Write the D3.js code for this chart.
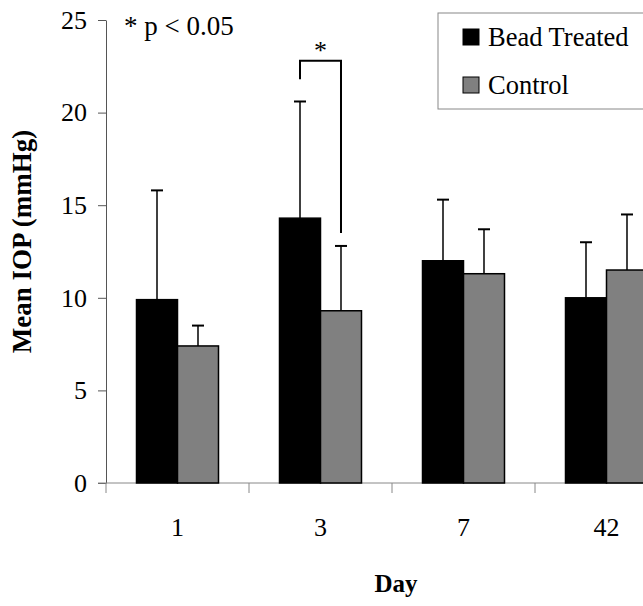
<!DOCTYPE html>
<html>
<head>
<meta charset="utf-8">
<script src="https://cdn.jsdelivr.net/npm/d3@7"></script>
<style>
    body { margin: 0; background: #fff; }
    svg text { font-family: "Times New Roman", "Liberation Serif", "DejaVu Serif", serif; }
    .y-axis path, .y-axis line { stroke: #555; }
    .x-axis path, .x-axis line { stroke: #888; }
</style>
</head>
<body>
<div id="chart"></div>
<script>
// Chart data
const days = ['1', '3', '7', '42'];
const series = ['Bead Treated', 'Control'];
const beadMean = [9.9, 14.3, 12.0, 10.0];
const beadErr = [15.8, 20.6, 15.3, 13.0];      // top of error bar
const controlMean = [7.4, 9.3, 11.3, 11.5];
const controlErr = [8.5, 12.8, 13.7, 14.5];
const yTicks = [0, 5, 10, 15, 20, 25];
const colors = ['#000000', '#808080'];

// Significance bracket for day 3 (in data units)
const sigDay = '3';
const sigLeftEnd = 21.8;
const sigTop = 22.8;
const sigRightEnd = 13.5;

const width = 643;
const height = 606;
const margin = { top: 20, left: 106, bottom: 123 };
const stepWidth = 143;

const rows = days.map((d, i) => ({
    day: d,
    values: [
        { key: series[0], mean: beadMean[i], err: beadErr[i] },
        { key: series[1], mean: controlMean[i], err: controlErr[i] }
    ]
}));

const svg = d3.select('#chart')
    .append('svg')
    .attr('width', width)
    .attr('height', height);

const x0 = d3.scaleBand()
    .domain(days)
    .range([margin.left, margin.left + stepWidth * days.length])
    .paddingInner(0.4266)
    .paddingOuter(0.2133);

const x1 = d3.scaleBand()
    .domain(series)
    .range([0, x0.bandwidth()]);

const y = d3.scaleLinear()
    .domain([0, 25])
    .range([height - margin.bottom, margin.top]);

const color = d3.scaleOrdinal().domain(series).range(colors);

// Y axis
svg.append('g')
    .attr('class', 'y-axis')
    .attr('transform', `translate(${margin.left},0)`)
    .call(d3.axisLeft(y).tickValues(yTicks).tickSize(8).tickSizeOuter(0).tickPadding(11))
    .call(g => g.attr('font-family', null))
    .call(g => g.selectAll('text')
        .style('font-size', '26px')
        .attr('fill', '#000'));

// X axis: ticks at category boundaries
const boundaries = days.map(d => x0(d) - x0.step() * x0.paddingOuter());
boundaries.push(x0.range()[1]);

const xAxis = svg.append('g').attr('class', 'x-axis');
xAxis.append('line')
    .attr('x1', x0.range()[0] - 8)
    .attr('x2', x0.range()[1])
    .attr('y1', y(0))
    .attr('y2', y(0))
    .attr('stroke', '#888');
xAxis.selectAll('.xtick')
    .data(boundaries)
    .enter()
    .append('line')
    .attr('x1', d => d)
    .attr('x2', d => d)
    .attr('y1', y(0))
    .attr('y2', y(0) + 10)
    .attr('stroke', '#888');
xAxis.selectAll('.xlabel')
    .data(days)
    .enter()
    .append('text')
    .attr('x', d => x0(d) + x0.bandwidth() / 2)
    .attr('y', y(0) + 53)
    .attr('text-anchor', 'middle')
    .style('font-size', '26px')
    .text(d => d);

// Bars
const groups = svg.selectAll('.group')
    .data(rows)
    .enter()
    .append('g')
    .attr('class', 'group')
    .attr('transform', d => `translate(${x0(d.day)},0)`);

// Error bars (drawn behind bars)
groups.selectAll('.err')
    .data(d => d.values)
    .enter()
    .append('line')
    .attr('x1', d => x1(d.key) + x1.bandwidth() / 2)
    .attr('x2', d => x1(d.key) + x1.bandwidth() / 2)
    .attr('y1', d => y(d.mean))
    .attr('y2', d => y(d.err))
    .attr('stroke', '#000')
    .attr('stroke-width', 1.5);

groups.selectAll('.cap')
    .data(d => d.values)
    .enter()
    .append('line')
    .attr('x1', d => x1(d.key) + x1.bandwidth() / 2 - 6)
    .attr('x2', d => x1(d.key) + x1.bandwidth() / 2 + 6)
    .attr('y1', d => y(d.err))
    .attr('y2', d => y(d.err))
    .attr('stroke', '#000')
    .attr('stroke-width', 2);

groups.selectAll('.bar')
    .data(d => d.values)
    .enter()
    .append('rect')
    .attr('class', 'bar')
    .attr('x', d => x1(d.key))
    .attr('y', d => y(d.mean))
    .attr('width', x1.bandwidth())
    .attr('height', d => y(0) - y(d.mean))
    .attr('fill', d => color(d.key))
    .attr('stroke', '#000')
    .attr('stroke-width', 1.5);

// Significance bracket
const bx1 = x0(sigDay) + x1(series[0]) + x1.bandwidth() / 2;
const bx2 = x0(sigDay) + x1(series[1]) + x1.bandwidth() / 2;
svg.append('path')
    .attr('d', `M${bx1},${y(sigLeftEnd)} V${y(sigTop)} H${bx2} V${y(sigRightEnd)}`)
    .attr('fill', 'none')
    .attr('stroke', '#000')
    .attr('stroke-width', 2);
svg.append('text')
    .attr('x', (bx1 + bx2) / 2)
    .attr('y', y(sigTop) - 2)
    .attr('text-anchor', 'middle')
    .style('font-size', '26px')
    .text('*');

// p-value note
svg.append('text')
    .attr('x', 124)
    .attr('y', 35)
    .style('font-size', '27px')
    .text('* p < 0.05');

// Legend
const legend = svg.append('g')
    .attr('class', 'legend')
    .attr('transform', 'translate(438,13)');
legend.append('rect')
    .attr('width', 240)
    .attr('height', 96)
    .attr('fill', '#fff')
    .attr('stroke', '#888')
    .attr('stroke-width', 1);
const legendItems = legend.selectAll('.legend-item')
    .data(series)
    .enter()
    .append('g')
    .attr('class', 'legend-item')
    .attr('transform', (d, i) => `translate(25,${16 + i * 48})`);
legendItems.append('rect')
    .attr('width', 16)
    .attr('height', 16)
    .attr('fill', d => color(d))
    .attr('stroke', '#000')
    .attr('stroke-width', 1);
legendItems.append('text')
    .attr('x', 25)
    .attr('y', 17)
    .style('font-size', '26.5px')
    .text(d => d);

// Axis titles
svg.append('text')
    .attr('transform', `translate(31,${(y(0) + y(25)) / 2 - 10}) rotate(-90)`)
    .attr('text-anchor', 'middle')
    .style('font-size', '27px')
    .style('font-weight', 'bold')
    .text('Mean IOP (mmHg)');

svg.append('text')
    .attr('x', 396)
    .attr('y', 592)
    .attr('text-anchor', 'middle')
    .style('font-size', '25px')
    .style('font-weight', 'bold')
    .text('Day');
</script>
</body>
</html>
